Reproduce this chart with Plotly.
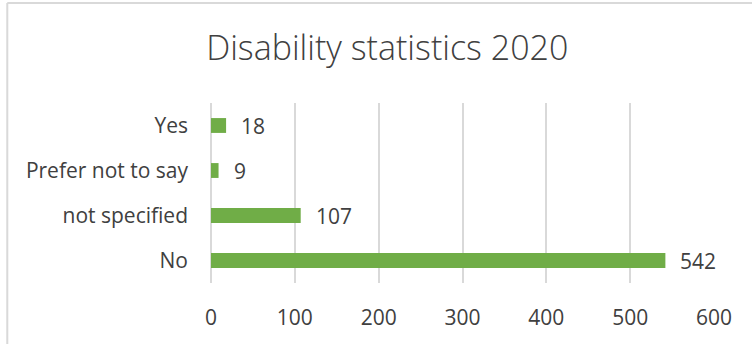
import plotly.graph_objects as go

categories = ["No", "not specified", "Prefer not to say", "Yes"]
counts = [542, 107, 9, 18]
x_ticks = [0, 100, 200, 300, 400, 500, 600]

BAR = "#70AD47"
GRID = "#D9D9D9"
TEXT = "#404040"
FONT = "Open Sans"

fig = go.Figure(
    go.Bar(
        x=counts,
        y=categories,
        orientation="h",
        marker=dict(color=BAR, line=dict(width=0)),
        hoverinfo="skip",
    )
)

# value labels placed just past each bar end
for cat, val in zip(categories, counts):
    fig.add_annotation(
        x=val, y=cat, text=str(val), showarrow=False,
        xanchor="left", yanchor="middle", xshift=13,
        font=dict(family=FONT, size=21, color=TEXT),
    )

# outer chart frame (left and top edges)
fig.add_shape(type="line", xref="paper", yref="paper",
              x0=-0.405, x1=-0.405, y0=-0.35, y1=1.555,
              line=dict(color=GRID, width=2))
fig.add_shape(type="line", xref="paper", yref="paper",
              x0=-0.405, x1=1.08, y0=1.555, y1=1.555,
              line=dict(color=GRID, width=2))

fig.update_layout(
    width=752, height=344,
    margin=dict(l=211, r=38, t=103, b=61),
    paper_bgcolor="white", plot_bgcolor="white",
    bargap=0.67,
    showlegend=False,
    title=dict(text="Disability statistics 2020", xref="container", yref="container",
               x=0.515, y=0.86, xanchor="center", yanchor="middle",
               font=dict(family=FONT, size=34, color=TEXT, weight=300)),
    xaxis=dict(range=[0, 600], tickvals=x_ticks, showgrid=True, gridcolor=GRID, gridwidth=1.5,
               zeroline=True, zerolinecolor=GRID, zerolinewidth=1.5, showline=False,
               ticks="", ticklabelstandoff=20,
               tickfont=dict(family=FONT, size=21, color=TEXT), fixedrange=True),
    yaxis=dict(categoryorder="array", categoryarray=categories, showgrid=False,
               showline=False, ticks="", ticklabelstandoff=22,
               tickfont=dict(family=FONT, size=21, color=TEXT), fixedrange=True),
)

fig.write_html("out.html")
